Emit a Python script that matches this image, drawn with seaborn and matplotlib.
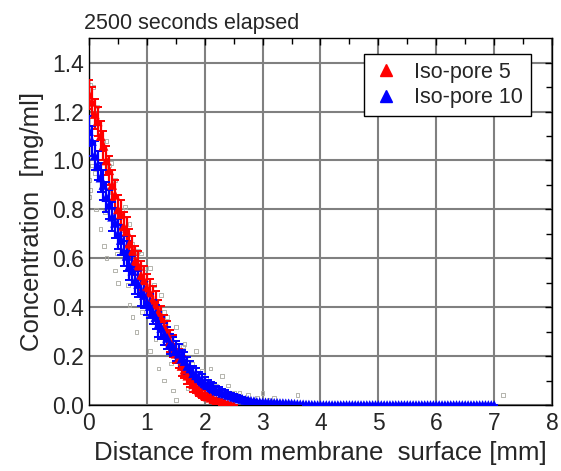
import numpy as np
import pandas as pd
import seaborn as sns
import matplotlib.pyplot as plt

# Iso-pore 5 (red)
x_red = [0.00, 0.05, 0.10, 0.15, 0.20, 0.25, 0.30, 0.35, 0.40, 0.45,
         0.50, 0.55, 0.60, 0.65, 0.70, 0.75, 0.80, 0.85, 0.90, 0.95,
         1.00, 1.05, 1.10, 1.15, 1.20, 1.25, 1.30, 1.35, 1.40, 1.45,
         1.50, 1.55, 1.60, 1.65, 1.70, 1.75, 1.80, 1.85, 1.90, 1.95,
         2.00, 2.05, 2.10, 2.15, 2.20, 2.25, 2.30, 2.35, 2.40, 2.45, 2.50]
y_red = [1.27, 1.24, 1.19, 1.16, 1.10, 1.06, 1.00, 0.96, 0.90, 0.86,
         0.80, 0.78, 0.73, 0.71, 0.66, 0.63, 0.59, 0.57, 0.53, 0.51,
         0.48, 0.46, 0.43, 0.41, 0.38, 0.355, 0.32, 0.295, 0.26, 0.24,
         0.21, 0.19, 0.16, 0.145, 0.12, 0.105, 0.085, 0.075, 0.06, 0.05,
         0.04, 0.035, 0.03, 0.025, 0.02, 0.015, 0.01, 0.008, 0.005, 0.003, 0.0]
err_red = [0.06, 0.06, 0.06, 0.06, 0.06, 0.06, 0.06, 0.06, 0.06, 0.06,
           0.06, 0.06, 0.06, 0.06, 0.06, 0.06, 0.06, 0.06, 0.06, 0.06,
           0.055, 0.055, 0.055, 0.055, 0.05, 0.05, 0.05, 0.05, 0.045, 0.045,
           0.04, 0.04, 0.04, 0.035, 0.035, 0.03, 0.03, 0.025, 0.025, 0.02,
           0.02, 0.015, 0.015, 0.015, 0.01, 0.01, 0.01, 0.005, 0.005, 0.0, 0.0]

# Iso-pore 10 (blue)
x_blue = [0.00, 0.05, 0.10, 0.15, 0.20, 0.25, 0.30, 0.35, 0.40, 0.45,
          0.50, 0.55, 0.60, 0.65, 0.70, 0.75, 0.80, 0.85, 0.90, 0.95,
          1.00, 1.05, 1.10, 1.15, 1.20, 1.25, 1.30, 1.35, 1.40, 1.45,
          1.50, 1.55, 1.60, 1.65, 1.70, 1.75, 1.80, 1.85, 1.90, 1.95,
          2.00, 2.05, 2.10, 2.15, 2.20, 2.25, 2.30, 2.35, 2.40, 2.45,
          2.50, 2.55, 2.60, 2.65, 2.70, 2.75, 2.80, 2.85, 2.90, 2.95,
          3.00, 3.05, 3.10, 3.15, 3.20, 3.25, 3.30, 3.35, 3.40, 3.45,
          3.50, 3.55, 3.60, 3.65, 3.70, 3.75, 3.80, 3.85, 3.90, 3.95,
          4.00, 4.05, 4.10, 4.15, 4.20, 4.25, 4.30, 4.35, 4.40, 4.45,
          4.50, 4.55, 4.60, 4.65, 4.70, 4.75, 4.80, 4.85, 4.90, 4.95,
          5.00, 5.05, 5.10, 5.15, 5.20, 5.25, 5.30, 5.35, 5.40, 5.45,
          5.50, 5.55, 5.60, 5.65, 5.70, 5.75, 5.80, 5.85, 5.90, 5.95,
          6.00, 6.05, 6.10, 6.15, 6.20, 6.25, 6.30, 6.35, 6.40, 6.45,
          6.50, 6.55, 6.60, 6.65, 6.70, 6.75, 6.80, 6.85, 6.90, 6.95, 7.00]
y_blue = [1.12, 1.08, 1.02, 0.98, 0.93, 0.90, 0.85, 0.82, 0.77, 0.745,
          0.70, 0.675, 0.63, 0.61, 0.57, 0.55, 0.51, 0.495, 0.46, 0.45,
          0.42, 0.405, 0.38, 0.36, 0.33, 0.315, 0.29, 0.275, 0.25, 0.24,
          0.22, 0.21, 0.19, 0.18, 0.16, 0.15, 0.13, 0.122, 0.11, 0.102,
          0.09, 0.084, 0.075, 0.07, 0.06, 0.056, 0.05, 0.047, 0.042, 0.039,
          0.034, 0.031, 0.027, 0.025, 0.021, 0.02, 0.017, 0.016, 0.013, 0.012,
          0.011, 0.011, 0.01, 0.01, 0.009, 0.009, 0.008, 0.008, 0.007, 0.007,
          0.006, 0.005, 0.004, 0.003, 0.003, 0.002, 0.002, 0.001, 0.001, 0.0,
          0.0, 0.0, 0.0, 0.0, 0.0, 0.0, 0.0, 0.0, 0.0, 0.0,
          0.0, 0.0, 0.0, 0.0, 0.0, 0.0, 0.0, 0.0, 0.0, 0.0,
          0.0, 0.0, 0.0, 0.0, 0.0, 0.0, 0.0, 0.0, 0.0, 0.0,
          0.0, 0.0, 0.0, 0.0, 0.0, 0.0, 0.0, 0.0, 0.0, 0.0,
          0.0, 0.0, 0.0, 0.0, 0.0, 0.0, 0.0, 0.0, 0.0, 0.0,
          0.0, 0.0, 0.0, 0.0, 0.0, 0.0, 0.0, 0.0, 0.0, 0.0, 0.0]
err_blue = [0.06, 0.06, 0.06, 0.06, 0.06, 0.06, 0.06, 0.06, 0.06, 0.06,
            0.06, 0.06, 0.06, 0.06, 0.06, 0.06, 0.055, 0.055, 0.055, 0.055,
            0.05, 0.05, 0.05, 0.05, 0.05, 0.045, 0.045, 0.045, 0.04, 0.04,
            0.04, 0.04, 0.035, 0.035, 0.035, 0.03, 0.03, 0.03, 0.025, 0.025,
            0.025, 0.02, 0.02, 0.02, 0.018, 0.016, 0.015, 0.014, 0.012, 0.012,
            0.01, 0.009, 0.008, 0.008, 0.006, 0.006, 0.005, 0.005, 0.004, 0.004,
            0.003, 0.003, 0.003, 0.002, 0.002, 0.002, 0.002, 0.001, 0.001, 0.001,
            0.001, 0.0, 0.0, 0.0, 0.0, 0.0, 0.0, 0.0, 0.0, 0.0,
            0.0, 0.0, 0.0, 0.0, 0.0, 0.0, 0.0, 0.0, 0.0, 0.0,
            0.0, 0.0, 0.0, 0.0, 0.0, 0.0, 0.0, 0.0, 0.0, 0.0,
            0.0, 0.0, 0.0, 0.0, 0.0, 0.0, 0.0, 0.0, 0.0, 0.0,
            0.0, 0.0, 0.0, 0.0, 0.0, 0.0, 0.0, 0.0, 0.0, 0.0,
            0.0, 0.0, 0.0, 0.0, 0.0, 0.0, 0.0, 0.0, 0.0, 0.0,
            0.0, 0.0, 0.0, 0.0, 0.0, 0.0, 0.0, 0.0, 0.0, 0.0, 0.0]

# stray individual readings (small grey squares)
x_grey = [0.02, 0.08, 0.05, 0.00, 0.02, 0.00, 0.22, 0.30, 0.35, 0.45,
          0.12, 0.40, 0.62, 0.55, 0.20, 0.26, 0.70, 0.75, 0.30, 0.45,
          0.90, 0.95, 0.50, 1.00, 0.70, 1.05, 1.25, 0.75, 0.82, 1.30,
          1.40, 1.05, 1.50, 1.20, 1.85, 1.30, 1.45, 2.10, 2.30, 1.50,
          2.40, 2.50, 2.75, 3.00, 3.20, 3.60, 3.10, 7.15, 1.65, 1.95,
          0.15, 0.38, 0.58, 0.85, 1.12, 1.35, 1.62, 1.78, 2.02, 2.20,
          0.10, 0.28, 0.48, 0.68, 0.92, 1.15, 1.42, 1.70, 2.60, 2.90]
y_grey = [1.31, 1.30, 0.98, 0.92, 0.88, 0.85, 1.08, 1.08, 0.98, 0.92,
          0.80, 0.87, 0.81, 0.70, 0.72, 0.65, 0.74, 0.66, 0.60, 0.55,
          0.62, 0.56, 0.50, 0.50, 0.41, 0.56, 0.45, 0.36, 0.30, 0.38,
          0.28, 0.22, 0.32, 0.15, 0.22, 0.10, 0.06, 0.15, 0.12, 0.02,
          0.08, 0.05, 0.04, 0.05, 0.03, 0.04, 0.02, 0.04, 0.25, 0.14,
          1.22, 0.99, 0.80, 0.63, 0.49, 0.36, 0.24, 0.17, 0.11, 0.08,
          0.95, 0.79, 0.62, 0.49, 0.38, 0.27, 0.17, 0.07, 0.05, 0.03]

labels = ["Iso-pore 5", "Iso-pore 10"]
colors = ["#ff0000", "#0000ff"]

df = pd.concat([
    pd.DataFrame({"x": x_red, "y": y_red, "err": err_red, "series": labels[0]}),
    pd.DataFrame({"x": x_blue, "y": y_blue, "err": err_blue, "series": labels[1]}),
])
grey_df = pd.DataFrame({"x": x_grey, "y": y_grey})

sns.set_style("white")
plt.rcParams["font.family"] = ["Liberation Sans", "DejaVu Sans"]

fig = plt.figure(figsize=(5.61, 4.71), dpi=100)
ax = fig.add_axes([0.1586, 0.140, 0.8254, 0.779])

sns.scatterplot(data=grey_df, x="x", y="y", marker="s", s=7,
                facecolor="none", edgecolor="#a8a8a0", linewidth=0.6,
                ax=ax, legend=False, zorder=2)

for lab, col in zip(labels, colors):
    sub = df[df["series"] == lab]
    ax.errorbar(sub["x"], sub["y"], yerr=sub["err"], fmt="none",
                ecolor=col, elinewidth=1.6, capsize=3, capthick=1.4, zorder=3)

sns.scatterplot(data=df, x="x", y="y", hue="series", palette=colors,
                marker="^", s=50, linewidth=0, ax=ax, legend=False, zorder=4)

ax.set_xlim(0, 8)
ax.set_ylim(0, 1.5)
ax.set_xticks(range(0, 9))
ax.set_yticks([0.0, 0.2, 0.4, 0.6, 0.8, 1.0, 1.2, 1.4])
ax.set_yticklabels(["0.0", "0.2", "0.4", "0.6", "0.8", "1.0", "1.2", "1.4"])
ax.set_xticks(np.arange(0.5, 8, 1.0), minor=True)
ax.set_yticks(np.arange(0.1, 1.5, 0.2), minor=True)
ax.grid(True, which="major", color="#808080", linewidth=1.5, zorder=0)
ax.set_axisbelow(True)
ax.tick_params(which="both", direction="in", top=True, right=True,
               labelsize=16.5, color="black")
ax.tick_params(axis="x", pad=5)
ax.tick_params(which="major", length=5, width=1)
ax.tick_params(which="minor", length=4, width=1)
for sp in ax.spines.values():
    sp.set_color("black")
    sp.set_linewidth(1.0)

ax.set_xlabel("Distance from membrane  surface [mm]", fontsize=18.5, labelpad=4)
ax.set_ylabel("Concentration  [mg/ml]", fontsize=18.5, labelpad=6)
fig.text(84 / 561, 1 - 29 / 471, "2500 seconds elapsed", fontsize=15.5,
         ha="left", va="baseline")

handles = [plt.Line2D([], [], marker="^", color=c, linestyle="none", markersize=8)
           for c in colors]
leg = ax.legend(handles, labels, loc="upper right", bbox_to_anchor=(0.977, 0.985),
                fontsize=15.5, frameon=True, fancybox=False, handletextpad=0.6,
                borderpad=0.35, handlelength=1.4, labelspacing=0.2)
leg.get_frame().set_edgecolor("black")
leg.get_frame().set_linewidth(1.0)
leg.get_frame().set_alpha(1)

fig.savefig("out.png", dpi=100)
